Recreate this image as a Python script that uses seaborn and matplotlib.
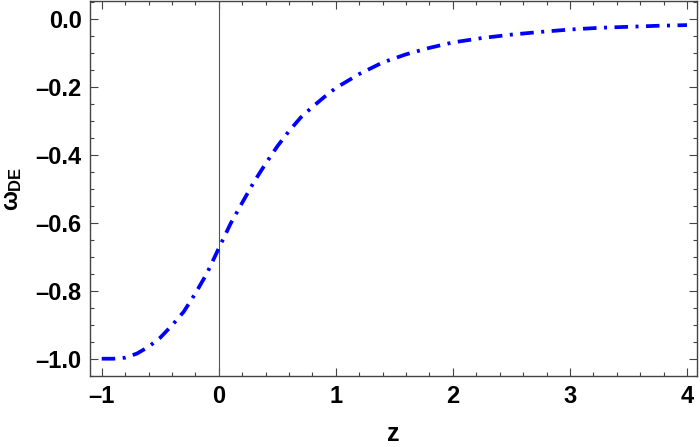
import numpy as np
import pandas as pd
import seaborn as sns
import matplotlib.pyplot as plt
from matplotlib.ticker import MultipleLocator

# values
z = [-1.0, -0.9, -0.8, -0.7, -0.6, -0.5, -0.4, -0.3, -0.2, -0.1, 0.0,
     0.1, 0.2, 0.3, 0.4, 0.5, 0.6, 0.7, 0.8, 0.9, 1.0,
     1.2, 1.4, 1.6, 1.8, 2.0, 2.25, 2.5, 2.75, 3.0, 3.25, 3.5, 3.75, 4.0]
w_de = [-1.000, -1.000, -0.997, -0.985, -0.965, -0.938, -0.902, -0.862, -0.808, -0.748, -0.675,
        -0.603, -0.541, -0.480, -0.426, -0.375, -0.330, -0.290, -0.259, -0.230, -0.203,
        -0.162, -0.128, -0.104, -0.085, -0.069, -0.056, -0.046, -0.038, -0.031, -0.026, -0.023, -0.020, -0.018]

x_ticks = [-1, 0, 1, 2, 3, 4]
y_ticks = [-1.0, -0.8, -0.6, -0.4, -0.2, 0.0]

df = pd.DataFrame({"z": z, "w": w_de})

sns.set_style("ticks")
plt.rcParams['font.family'] = ['Liberation Sans', 'DejaVu Sans']
plt.rcParams['font.weight'] = 'bold'
plt.rcParams['mathtext.fontset'] = 'custom'
plt.rcParams['mathtext.rm'] = 'Liberation Sans:bold'
plt.rcParams['mathtext.it'] = 'Liberation Sans:bold'

fig = plt.figure(figsize=(7, 4.47), dpi=100)
ax = fig.add_axes([0.1286, 0.158, 0.867, 0.8398])

ax.axvline(0, color='#555555', lw=0.8, zorder=1)
sns.lineplot(data=df, x="z", y="w", ax=ax, color=(0, 0, 1), lw=2.7,
             linestyle=(0, (3.6, 2.0, 0.8, 2.0)), zorder=3)

ax.set_xlim(-1.1, 4.085)
ax.set_ylim(-1.052, 0.053)
ax.set_xticks(x_ticks)
ax.set_xticklabels([f"{t:g}".replace('-', '\u2013') for t in x_ticks])
ax.set_yticks(y_ticks)
ax.set_yticklabels([f"{t:.1f}".replace('-', '\u2013') for t in y_ticks])
ax.xaxis.set_minor_locator(MultipleLocator(0.2))
ax.yaxis.set_minor_locator(MultipleLocator(0.05))

frame_col = '#444444'
for s in ax.spines.values():
    s.set_color(frame_col)
    s.set_linewidth(1.0)
ax.tick_params(which='both', direction='in', top=True, right=True, color=frame_col, width=0.8)
ax.tick_params(which='major', length=5.5, labelsize=17, pad=6, labelcolor='black')
ax.tick_params(which='minor', length=3)
for lab in ax.get_xticklabels() + ax.get_yticklabels():
    lab.set_fontweight('bold')

ax.set_xlabel("z", fontsize=18, fontweight='bold', labelpad=10, color='black')
ax.set_ylabel(r"$\omega_{\rm DE}$", fontsize=17, labelpad=8, color='black')

fig.savefig("out.png", dpi=100)
